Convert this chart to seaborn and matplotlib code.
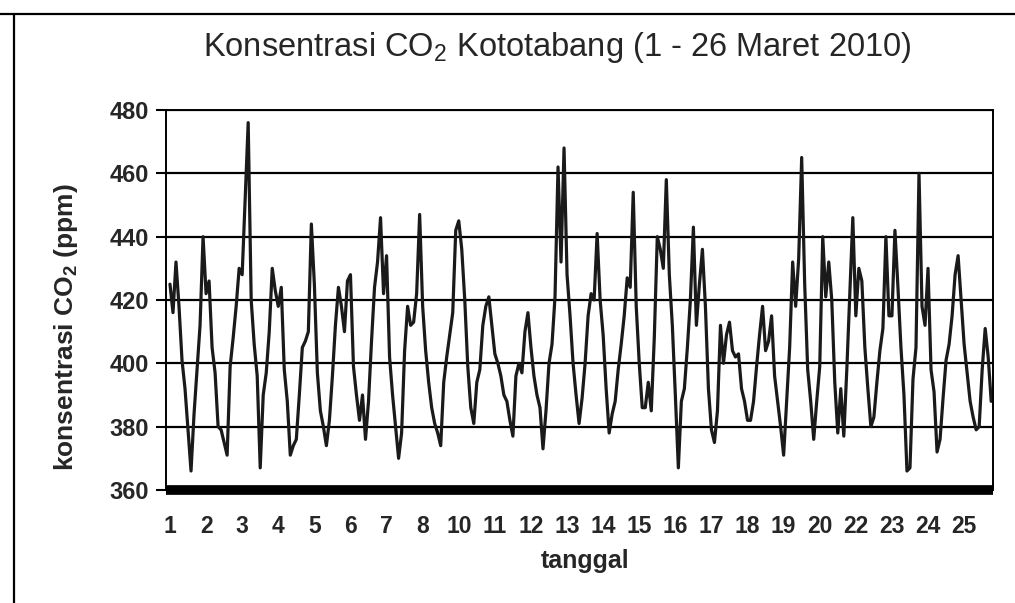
import pandas as pd
import seaborn as sns
import matplotlib.pyplot as plt
from matplotlib.lines import Line2D

# label tanggal di sumbu x (tanggal 9 dan 21 tidak ada)
tanggal = ['1', '2', '3', '4', '5', '6', '7', '8', '10', '11', '12', '13',
           '14', '15', '16', '17', '18', '19', '20', '22', '23', '24', '25']

# jam pengamatan tiap hari (dibaca tiap 2 jam)
jam = [0, 2, 4, 6, 8, 10, 12, 14, 16, 18, 20, 22]

# konsentrasi CO2 (ppm), satu baris per tanggal
co2_ppm = [
    [425, 416, 432, 418, 401, 392, 379, 366, 384, 398, 412, 440],  # 1
    [422, 426, 405, 397, 380, 379, 375, 371, 399, 408, 418, 430],  # 2
    [428, 452, 476, 420, 406, 396, 367, 390, 397, 410, 430, 423],  # 3
    [418, 424, 398, 388, 371, 374, 376, 390, 405, 407, 410, 444],  # 4
    [425, 397, 385, 380, 374, 382, 396, 412, 424, 418, 410, 426],  # 5
    [428, 399, 390, 382, 390, 376, 388, 407, 424, 432, 446, 422],  # 6
    [434, 402, 390, 380, 370, 378, 404, 418, 412, 413, 422, 447],  # 7
    [418, 404, 394, 386, 381, 378, 374, 394, 402, 409, 416, 442],  # 8
    [445, 436, 420, 399, 386, 381, 394, 398, 412, 418, 421, 412],  # 10
    [403, 400, 396, 390, 388, 382, 377, 396, 400, 397, 410, 416],  # 11
    [405, 396, 390, 386, 373, 385, 400, 406, 421, 462, 432, 468],  # 12
    [428, 415, 400, 390, 381, 389, 400, 415, 422, 420, 441, 420],  # 13
    [409, 392, 378, 384, 388, 398, 406, 415, 427, 424, 454, 418],  # 14
    [400, 386, 386, 394, 385, 408, 440, 436, 430, 458, 428, 412],  # 15
    [390, 367, 388, 392, 405, 420, 443, 412, 425, 436, 418, 392],  # 16
    [379, 375, 385, 412, 400, 409, 413, 404, 402, 403, 392, 388],  # 17
    [382, 382, 388, 399, 409, 418, 404, 407, 415, 396, 388, 380],  # 18
    [371, 388, 405, 432, 418, 433, 465, 425, 398, 388, 376, 388],  # 19
    [399, 440, 421, 432, 420, 394, 378, 392, 377, 398, 422, 446],  # 20
    [415, 430, 426, 405, 392, 380, 383, 394, 404, 411, 440, 415],  # 22
    [415, 442, 424, 405, 390, 366, 367, 395, 405, 460, 418, 412],  # 23
    [430, 398, 391, 372, 376, 389, 401, 406, 415, 428, 434, 420],  # 24
    [406, 397, 388, 383, 379, 380, 398, 411, 402, 388],            # 25
]

# susun jadi dataframe, posisi x = urutan hari + jam/24
rows = []
for i, nilai_hari in enumerate(co2_ppm):
    for j, v in enumerate(nilai_hari):
        rows.append({'waktu': i + jam[j] / 24, 'co2': v})
df = pd.DataFrame(rows)

sns.set_style('white')
plt.rcParams['font.family'] = ['Liberation Sans', 'DejaVu Sans']
plt.rcParams['mathtext.fontset'] = 'custom'
plt.rcParams['mathtext.rm'] = 'Liberation Sans'
plt.rcParams['mathtext.bf'] = 'Liberation Sans:bold'

fig = plt.figure(figsize=(10.15, 6.03), dpi=100)
ax = fig.add_axes([166 / 1015, 1 - 490 / 603, (993 - 166) / 1015, 380 / 603])

sns.lineplot(data=df, x='waktu', y='co2', estimator=None, color='#1a1a1a',
             linewidth=2.3, ax=ax)

ax.set_xlim(-0.11, 22.80)
ax.set_ylim(360, 480)
ax.set_yticks(range(360, 481, 20))
ax.set_xticks(range(len(tanggal)))
ax.set_xticklabels(tanggal)

# garis grid horizontal hitam seperti excel
ax.grid(axis='y', color='black', linewidth=1.6)
ax.grid(axis='x', visible=False)
ax.set_axisbelow(True)

for s in ['top', 'right', 'left']:
    ax.spines[s].set_color('black')
    ax.spines[s].set_linewidth(1.4)
ax.spines['bottom'].set_color('black')
ax.spines['bottom'].set_linewidth(7)
ax.spines['bottom'].set_capstyle('butt')

ax.tick_params(axis='y', direction='out', length=7, width=1.5, color='black',
               pad=5, labelsize=17, left=True)
ax.tick_params(axis='x', length=0, pad=18, labelsize=16.5)
for lab in ax.get_xticklabels() + ax.get_yticklabels():
    lab.set_fontweight('bold')

ax.set_xlabel('tanggal', fontsize=18, fontweight='bold')
ax.set_ylabel(r'konsentrasi CO$_\mathbf{2}$ (ppm)', fontsize=19, fontweight='bold')
ax.xaxis.set_label_coords((585 - 166) / 827, (490 - 549) / 380)
ax.xaxis.label.set_va('top')
ax.yaxis.set_label_coords((80 - 166) / 827, (490 - 327) / 380)

fig.text(557 / 1015, 1 - 56 / 603, 'Konsentrasi CO$_2$ Kototabang (1 - 26 Maret 2010)',
         ha='center', va='baseline', fontsize=23.5)

# bingkai luar chart
fig.add_artist(Line2D([0, 1], [1 - 14 / 603, 1 - 14 / 603], color='black', linewidth=1.6))
fig.add_artist(Line2D([14 / 1015, 14 / 1015], [0, 1 - 14 / 603], color='black', linewidth=1.6))

fig.savefig('out.png', dpi=100)
